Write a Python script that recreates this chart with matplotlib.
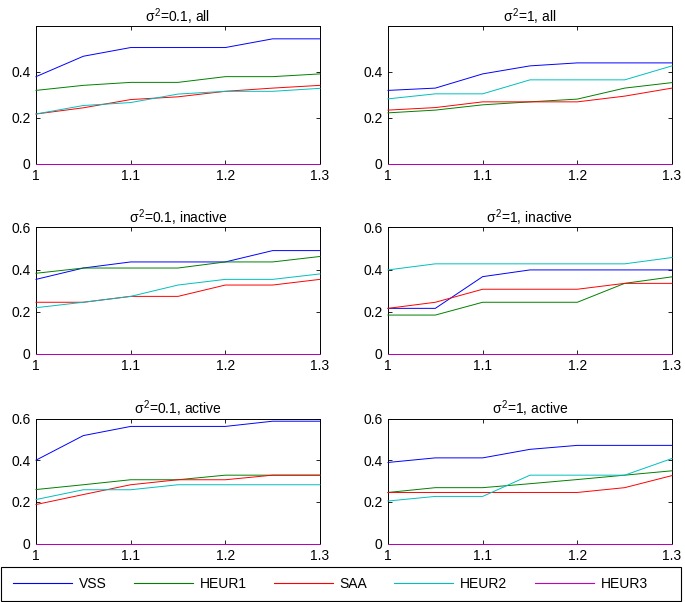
import matplotlib
matplotlib.use("Agg")
import matplotlib.pyplot as plt
from matplotlib.lines import Line2D
from matplotlib.patches import Rectangle

plt.rcParams["font.family"] = ["Liberation Sans", "DejaVu Sans"]
plt.rcParams["mathtext.fontset"] = "custom"
plt.rcParams["mathtext.rm"] = "Liberation Sans"
plt.rcParams["mathtext.it"] = "Liberation Sans"
plt.rcParams["font.size"] = 10

x = [1.0, 1.05, 1.1, 1.15, 1.2, 1.25, 1.3]
methods = ["VSS", "HEUR1", "SAA", "HEUR2", "HEUR3"]
colors = ["#0000ff", "#008000", "#ff0000", "#00bfbf", "#bf00bf"]

titles = [
    r"$\sigma^2$=0.1, all", r"$\sigma^2$=1, all",
    r"$\sigma^2$=0.1, inactive", r"$\sigma^2$=1, inactive",
    r"$\sigma^2$=0.1, active", r"$\sigma^2$=1, active",
]

# sigma^2 = 0.1, all
vss_01_all = [0.379, 0.468, 0.506, 0.506, 0.506, 0.544, 0.544]
heur1_01_all = [0.319, 0.341, 0.354, 0.354, 0.379, 0.379, 0.391]
saa_01_all = [0.216, 0.243, 0.279, 0.291, 0.315, 0.329, 0.341]
heur2_01_all = [0.216, 0.253, 0.266, 0.303, 0.315, 0.315, 0.328]
heur3_01_all = [0, 0, 0, 0, 0, 0, 0]

# sigma^2 = 1, all
vss_1_all = [0.319, 0.329, 0.391, 0.426, 0.439, 0.439, 0.439]
heur1_1_all = [0.221, 0.233, 0.256, 0.269, 0.281, 0.329, 0.353]
saa_1_all = [0.233, 0.244, 0.269, 0.269, 0.269, 0.294, 0.329]
heur2_1_all = [0.282, 0.304, 0.304, 0.365, 0.365, 0.365, 0.426]
heur3_1_all = [0, 0, 0, 0, 0, 0, 0]

# sigma^2 = 0.1, inactive
vss_01_inact = [0.353, 0.407, 0.436, 0.436, 0.436, 0.490, 0.490]
heur1_01_inact = [0.382, 0.407, 0.407, 0.407, 0.436, 0.436, 0.462]
saa_01_inact = [0.244, 0.244, 0.272, 0.272, 0.326, 0.326, 0.353]
heur2_01_inact = [0.218, 0.244, 0.272, 0.326, 0.353, 0.353, 0.379]
heur3_01_inact = [0, 0, 0, 0, 0, 0, 0]

# sigma^2 = 1, inactive
vss_1_inact = [0.215, 0.215, 0.366, 0.398, 0.398, 0.398, 0.398]
heur1_1_inact = [0.183, 0.183, 0.244, 0.244, 0.244, 0.334, 0.365]
saa_1_inact = [0.215, 0.244, 0.306, 0.306, 0.306, 0.334, 0.334]
heur2_1_inact = [0.398, 0.427, 0.427, 0.427, 0.427, 0.427, 0.457]
heur3_1_inact = [0, 0, 0, 0, 0, 0, 0]

# sigma^2 = 0.1, active
vss_01_act = [0.400, 0.518, 0.562, 0.562, 0.562, 0.587, 0.587]
heur1_01_act = [0.259, 0.282, 0.306, 0.306, 0.328, 0.328, 0.328]
saa_01_act = [0.187, 0.235, 0.282, 0.306, 0.306, 0.328, 0.328]
heur2_01_act = [0.211, 0.258, 0.258, 0.282, 0.282, 0.282, 0.282]
heur3_01_act = [0, 0, 0, 0, 0, 0, 0]

# sigma^2 = 1, active
vss_1_act = [0.389, 0.411, 0.411, 0.452, 0.471, 0.471, 0.471]
heur1_1_act = [0.245, 0.268, 0.268, 0.287, 0.307, 0.328, 0.349]
saa_1_act = [0.245, 0.245, 0.245, 0.245, 0.245, 0.268, 0.326]
heur2_1_act = [0.204, 0.226, 0.226, 0.328, 0.328, 0.328, 0.408]
heur3_1_act = [0, 0, 0, 0, 0, 0, 0]

panels = [
    [vss_01_all, heur1_01_all, saa_01_all, heur2_01_all, heur3_01_all],
    [vss_1_all, heur1_1_all, saa_1_all, heur2_1_all, heur3_1_all],
    [vss_01_inact, heur1_01_inact, saa_01_inact, heur2_01_inact, heur3_01_inact],
    [vss_1_inact, heur1_1_inact, saa_1_inact, heur2_1_inact, heur3_1_inact],
    [vss_01_act, heur1_01_act, saa_01_act, heur2_01_act, heur3_01_act],
    [vss_1_act, heur1_1_act, saa_1_act, heur2_1_act, heur3_1_act],
]

W, H = 685, 602
fig = plt.figure(figsize=(W / 100, H / 100), dpi=100)

# axes boxes in pixels: (left, right) per column, (top, bottom) per row
cols = [(36, 320), (388, 672)]
rows = [(26, 163.5), (227.5, 353.5), (418.5, 543.5)]

for i, series in enumerate(panels):
    r, c = divmod(i, 2)
    l, rt = cols[c]
    t, b = rows[r]
    ax = fig.add_axes([l / W, 1 - b / H, (rt - l) / W, (b - t) / H])
    for vals, col in zip(series, colors):
        ax.plot(x, vals, color=col, lw=0.7, clip_on=False, zorder=3)
    ax.set_xlim(1, 1.3)
    ax.set_ylim(0, 0.6)
    if r == 0:
        ax.set_yticks([0, 0.2, 0.4])
        ax.set_yticklabels(["0", "0.2", "0.4"])
    else:
        ax.set_yticks([0, 0.2, 0.4, 0.6])
        ax.set_yticklabels(["0", "0.2", "0.4", "0.6"])
    ax.set_xticks([1, 1.1, 1.2, 1.3])
    ax.set_xticklabels(["1", "1.1", "1.2", "1.3"])
    ax.tick_params(direction="in", length=3, width=0.6, top=True, right=True,
                   labelsize=10, pad=4)
    for s in ax.spines.values():
        s.set_linewidth(0.7)
    ax.set_title(titles[i], fontsize=10, pad=3)

# legend box drawn separately so the entries keep their natural spacing
fig.patches.append(Rectangle((0.5 / W, 1 - 601 / H), 680 / W, 34 / H,
                             transform=fig.transFigure, fill=False,
                             edgecolor="black", linewidth=0.8))
handles = [Line2D([], [], color=col, lw=0.8) for col in colors]
fig.legend(handles, methods, loc="center left", ncol=5, frameon=False,
           bbox_to_anchor=(12.7 / W, 1 - 584 / H),
           handlelength=4.25, handletextpad=0.5, columnspacing=1.95,
           borderpad=0, borderaxespad=0, fontsize=10)

fig.savefig("out.png", dpi=100)
